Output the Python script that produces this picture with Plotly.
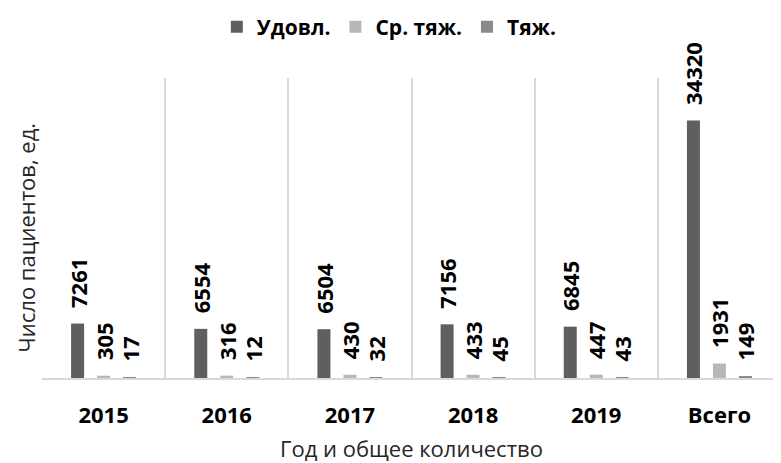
import plotly.graph_objects as go

categories = ["2015", "2016", "2017", "2018", "2019", "Всего"]
udovl = [7261, 6554, 6504, 7156, 6845, 34320]
sr_tyazh = [305, 316, 430, 433, 447, 1931]
tyazh = [17, 12, 32, 45, 43, 149]

series_names = ["Удовл.", "Ср. тяж.", "Тяж."]
colors = ["#5F5F5F", "#B8B8B8", "#8A8A8A"]

FONT = "Open Sans"
fig = go.Figure()
for name, vals, col in zip(series_names, [udovl, sr_tyazh, tyazh], colors):
    fig.add_trace(go.Bar(
        x=categories, y=vals, name=name, marker_color=col,
        marker_line_width=0,
        text=[str(v) for v in vals], texttemplate="\u2007%{text}", textposition="outside",
        textangle=-90, constraintext="none", cliponaxis=False,
        textfont=dict(family=FONT, size=22, color="#000000", weight="bold"),
    ))

# page body has an 8px default margin, so the figure is sized to fit the window
fig.update_layout(
    width=773, height=455,
    margin=dict(l=34, r=0, t=70, b=85, autoexpand=False),
    paper_bgcolor="white", plot_bgcolor="white",
    barmode="group", bargap=0.367, bargroupgap=0.5,
    showlegend=True,
    legend=dict(orientation="h", x=0.47, xanchor="center", y=1.17, yanchor="middle",
                font=dict(family=FONT, size=21, color="#000000", weight="bold"),
                traceorder="normal"),
    xaxis=dict(
        type="category", tickson="boundaries", showgrid=True, gridcolor="#D9D9D9", gridwidth=1.5,
        showline=True, linecolor="#D9D9D9", linewidth=2, ticks="", automargin=False,
        layer="above traces",
        tickfont=dict(family=FONT, size=22, color="#000000", weight="bold"),
        ticklabelstandoff=17,
    ),
    yaxis=dict(range=[0, 40000], showgrid=False, showticklabels=False, zeroline=False,
               showline=False, automargin=False),
    annotations=[
        dict(text="Год и общее количество", xref="paper", yref="paper", x=0.5, y=-0.232,
             xanchor="center", yanchor="middle", showarrow=False,
             font=dict(family=FONT, size=22, color="#262626")),
        dict(text="Число пациентов, ед.", xref="paper", yref="paper", x=-0.021, y=0.47,
             xanchor="center", yanchor="middle", showarrow=False, textangle=-90,
             font=dict(family=FONT, size=22, color="#262626")),
    ],
)

fig.write_html("out.html")
